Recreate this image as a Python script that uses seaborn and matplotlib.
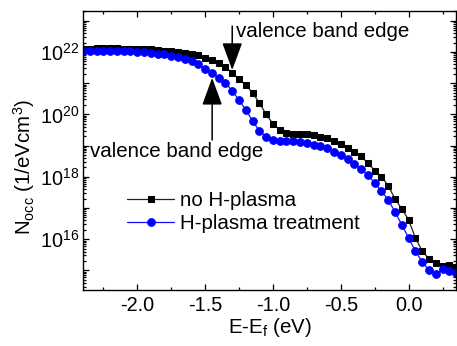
import numpy as np
import pandas as pd
import matplotlib
matplotlib.use("Agg")
import matplotlib.pyplot as plt
import matplotlib.ticker as mticker
import seaborn as sns

energy = [round(-2.40 + 0.05 * i, 2) for i in range(56)]

log_no_plasma = [
    22.10, 22.11, 22.12, 22.12, 22.12, 22.12, 22.11, 22.11, 22.10, 22.09,
    22.08, 22.06, 22.04, 22.02, 21.99, 21.96, 21.93, 21.89, 21.82, 21.73,
    21.65, 21.52, 21.33, 21.13, 20.94, 20.69, 20.37, 20.00, 19.70, 19.50,
    19.40, 19.37, 19.37, 19.36, 19.34, 19.29, 19.23, 19.14, 19.04, 18.91,
    18.79, 18.65, 18.44, 18.20, 18.00, 17.71, 17.29, 16.97, 16.62, 16.04,
    15.62, 15.37, 15.24, 15.14, 15.17, 15.11,
]
log_h_plasma = [
    22.02, 22.03, 22.04, 22.04, 22.04, 22.04, 22.03, 22.02, 22.01, 21.99,
    21.97, 21.95, 21.92, 21.88, 21.84, 21.78, 21.71, 21.60, 21.45, 21.33,
    21.17, 21.01, 20.75, 20.46, 20.14, 19.79, 19.47, 19.28, 19.18, 19.15,
    19.15, 19.15, 19.12, 19.08, 19.03, 18.98, 18.92, 18.80, 18.70, 18.57,
    18.41, 18.25, 18.06, 17.80, 17.54, 17.26, 16.87, 16.46, 16.04, 15.62,
    15.27, 15.01, 14.88, 15.04, 14.98, 14.92,
]

series_names = ["no H-plasma", "H-plasma treatment"]
x_ticks = [-2.0, -1.5, -1.0, -0.5, 0.0]
annotation_text = "valence band edge"

sns.set_theme(style="ticks")
plt.rcParams["font.family"] = ["Liberation Sans", "DejaVu Sans"]
plt.rcParams["mathtext.fontset"] = "custom"
plt.rcParams["mathtext.rm"] = "Liberation Sans"
plt.rcParams["mathtext.it"] = "Liberation Sans:italic"
plt.rcParams["text.color"] = "black"
plt.rcParams["axes.labelcolor"] = "black"
plt.rcParams["xtick.color"] = "black"
plt.rcParams["ytick.color"] = "black"

FS = 14.8

df = pd.DataFrame({
    "E": energy * 2,
    "N": [10 ** v for v in log_no_plasma] + [10 ** v for v in log_h_plasma],
    "series": [series_names[0]] * len(energy) + [series_names[1]] * len(energy),
})

fig = plt.figure(figsize=(4.57, 3.46), dpi=100)
ax = fig.add_axes([0.1816, 0.1618, 0.8164, 0.8062])
ax.set_yscale("log")

sub0 = df[df.series == series_names[0]]
sub1 = df[df.series == series_names[1]]
sns.lineplot(data=sub0, x="E", y="N", ax=ax, color="#222222", lw=0.9,
             marker="s", markersize=4.8, markerfacecolor="black",
             markeredgecolor="black", label=series_names[0])
sns.lineplot(data=sub1, x="E", y="N", ax=ax, color="#1010ff", lw=0.9,
             marker="o", markersize=5.5, markerfacecolor="#0000ff",
             markeredgecolor="#0000ff", label=series_names[1])

ax.set_xlim(-2.40, 0.35)
ax.set_ylim(10 ** 14.37, 10 ** 23.31)

ax.set_xticks(x_ticks)
ax.set_xticklabels([f"{t:.1f}" for t in x_ticks])
ax.xaxis.set_minor_locator(mticker.MultipleLocator(0.25))

ax.yaxis.set_major_locator(mticker.LogLocator(base=10, numticks=30))
def fmt(v, pos):
    e = int(round(np.log10(v)))
    return r"$10^{%d}$" % e if e % 2 == 0 else ""
ax.yaxis.set_major_formatter(mticker.FuncFormatter(fmt))
ax.yaxis.set_minor_locator(mticker.LogLocator(base=10, subs=np.arange(2, 10), numticks=30))
ax.yaxis.set_minor_formatter(mticker.NullFormatter())

ax.tick_params(which="both", direction="in", top=True, right=True,
               labelsize=14.3, colors="black", width=0.9)
ax.tick_params(which="major", length=4.5)
ax.tick_params(axis="x", which="major", pad=4)
ax.tick_params(axis="y", which="major", pad=3)
ax.tick_params(which="minor", length=2.5)
for s in ax.spines.values():
    s.set_linewidth(1.0)
    s.set_color("black")

ax.set_xlabel(r"E-E$_\mathregular{f}$ (eV)", fontsize=FS, labelpad=1)
ax.set_ylabel(r"N$_\mathregular{occ}$ (1/eVcm$^\mathregular{3}$)", fontsize=FS)
ax.yaxis.set_label_coords(-0.123, 0.44)

arrow = dict(arrowstyle="-|>,head_length=0.9,head_width=0.33", color="black",
             lw=1.1, mutation_scale=19, shrinkA=0, shrinkB=0)
ax.annotate("", xy=(-1.30, 10 ** 21.42), xytext=(-1.30, 10 ** 22.83),
            arrowprops=arrow)
ax.text(-1.271, 10 ** 22.48, annotation_text, fontsize=FS, va="baseline", ha="left")
ax.annotate("", xy=(-1.448, 10 ** 21.17), xytext=(-1.448, 10 ** 19.18),
            arrowprops=arrow)
ax.text(-2.348, 10 ** 18.63, annotation_text, fontsize=FS, va="baseline", ha="left")

leg = ax.legend(loc="upper left", bbox_to_anchor=(0.118, 0.355), frameon=False,
                fontsize=FS, handlelength=2.3, handletextpad=0.3,
                labelspacing=0.2, borderaxespad=0, borderpad=0)

fig.savefig("out.png", dpi=100)
